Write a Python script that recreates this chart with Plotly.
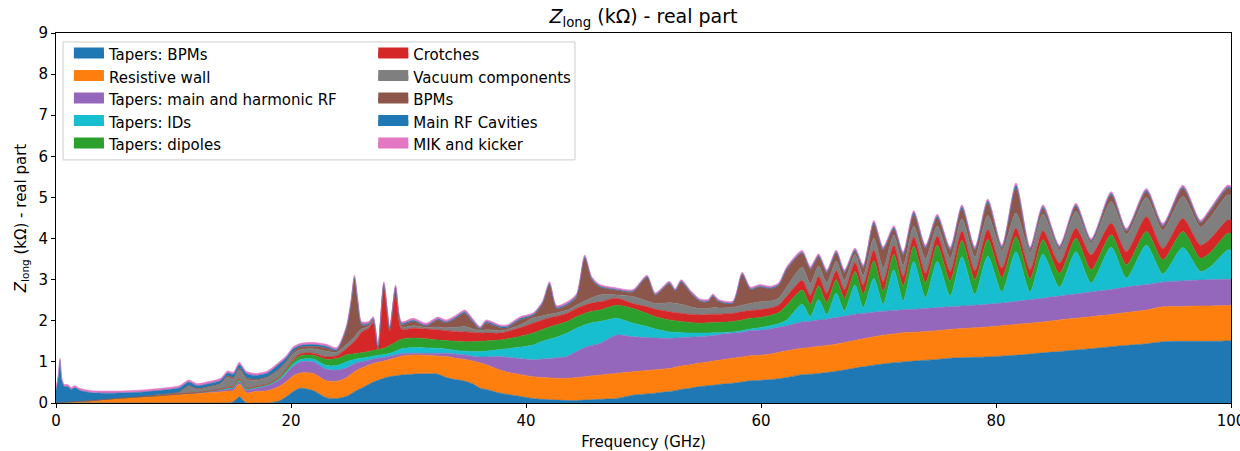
import plotly.graph_objects as go

# Frequency grid (GHz)
freq = [0, 0.2, 0.34, 0.5, 0.7, 1.0, 1.3, 1.6, 2.0, 3, 5, 7, 9, 10.5, 11.3, 12.0, 13, 14, 14.6, 15.1, 15.6, 16.2, 17, 18, 19, 19.6, 20.2,
        20.8, 21.9, 23.0, 23.9, 24.7, 25.1, 25.4, 25.7, 26.0, 26.6, 27.0, 27.4, 27.9, 28.4, 28.9, 29.4, 30.4,
        31.5, 32.5, 33.2, 34.0, 34.8, 35.5, 36.1, 36.6, 37.8, 38.4, 39.5, 40.6, 41.4, 42.0, 42.6, 43.5, 44.3, 45.0, 45.6, 46.3,
        47.7, 49.1, 50.3, 51.0, 52.2, 52.7, 53.2, 54.0, 54.8, 55.5, 55.9, 56.4, 57.6, 58.4, 59.1, 59.9, 60.8, 61.5, 62.2,
        63.5, 64.2, 64.9, 65.6, 66.4, 67.1, 68.0, 68.7, 69.6, 70.4, 71.3, 72.1, 73.0, 74.0, 75.0, 76.1, 77.1, 78.2, 79.3, 80.5,
        81.7, 82.9, 84.0, 85.4, 86.8, 88.1, 89.8, 91.1, 92.8, 94.2, 95.9, 97.4, 98.2, 99.7, 100]

# Real part of Z_long (kOhm) per component (stacked)
tapers_bpms = [0, 0, 0, 0, 0, 0, 0, 0, 0, 0, 0, 0, 0, 0, 0, 0, 0, 0, 0, 0.03, 0.15, 0, 0, 0, 0.05, 0.15, 0.28,
               0.36, 0.30, 0.13, 0.11, 0.16, 0.22, 0.27, 0.32, 0.36, 0.45, 0.51, 0.55, 0.60, 0.64, 0.66, 0.68, 0.70,
               0.71, 0.70, 0.62, 0.57, 0.53, 0.46, 0.36, 0.33, 0.24, 0.21, 0.16, 0.11, 0.09, 0.08, 0.07, 0.06, 0.06, 0.07, 0.08, 0.09,
               0.11, 0.19, 0.22, 0.24, 0.28, 0.30, 0.33, 0.36, 0.40, 0.42, 0.43, 0.45, 0.48, 0.51, 0.54, 0.55, 0.57, 0.59, 0.62,
               0.69, 0.70, 0.72, 0.74, 0.77, 0.80, 0.85, 0.88, 0.92, 0.95, 0.98, 1.00, 1.02, 1.04, 1.06, 1.09, 1.10, 1.11, 1.12, 1.14,
               1.16, 1.19, 1.22, 1.25, 1.29, 1.32, 1.37, 1.40, 1.44, 1.49, 1.50, 1.50, 1.50, 1.51, 1.51]
resistive_wall = [0, 0.005, 0.01, 0.01, 0.015, 0.02, 0.03, 0.035, 0.04, 0.06, 0.11, 0.15, 0.18, 0.21, 0.22, 0.23, 0.25, 0.27, 0.29, 0.27, 0.31, 0.25, 0.28, 0.30, 0.35, 0.37, 0.38,
                  0.37, 0.42, 0.41, 0.42, 0.45, 0.48, 0.49, 0.49, 0.49, 0.47, 0.45, 0.44, 0.42, 0.42, 0.44, 0.46, 0.47,
                  0.45, 0.44, 0.51, 0.52, 0.53, 0.56, 0.61, 0.60, 0.56, 0.54, 0.53, 0.53, 0.53, 0.53, 0.53, 0.54, 0.56, 0.57, 0.58, 0.59,
                  0.61, 0.57, 0.57, 0.57, 0.56, 0.57, 0.57, 0.57, 0.57, 0.58, 0.59, 0.59, 0.61, 0.61, 0.61, 0.61, 0.62, 0.64, 0.65,
                  0.64, 0.65, 0.66, 0.66, 0.66, 0.67, 0.67, 0.68, 0.69, 0.70, 0.70, 0.71, 0.70, 0.70, 0.70, 0.70, 0.71, 0.72, 0.73, 0.74,
                  0.75, 0.75, 0.75, 0.77, 0.77, 0.78, 0.78, 0.80, 0.82, 0.85, 0.85, 0.86, 0.86, 0.86, 0.86]
tapers_rf = [0, 0, 0, 0, 0, 0, 0, 0, 0, 0, 0, 0, 0.005, 0.01, 0.02, 0.02, 0.03, 0.04, 0.05, 0.06, 0.06, 0.07, 0.08, 0.12, 0.16, 0.20, 0.24,
             0.27, 0.28, 0.28, 0.27, 0.24, 0.21, 0.19, 0.18, 0.15, 0.12, 0.11, 0.10, 0.09, 0.08, 0.07, 0.06, 0.04,
             0.05, 0.07, 0.08, 0.10, 0.11, 0.12, 0.15, 0.19, 0.33, 0.36, 0.39, 0.41, 0.45, 0.47, 0.50, 0.53, 0.63, 0.71, 0.74, 0.77,
             0.93, 0.85, 0.80, 0.77, 0.73, 0.71, 0.69, 0.67, 0.64, 0.63, 0.62, 0.62, 0.61, 0.60, 0.61, 0.61, 0.61, 0.61, 0.61,
             0.64, 0.64, 0.64, 0.64, 0.65, 0.64, 0.64, 0.62, 0.60, 0.58, 0.57, 0.56, 0.56, 0.56, 0.56, 0.55, 0.55, 0.55, 0.55, 0.55,
             0.56, 0.57, 0.58, 0.58, 0.59, 0.60, 0.61, 0.62, 0.62, 0.60, 0.62, 0.63, 0.64, 0.64, 0.64]
tapers_ids = [0, 0, 0, 0, 0, 0, 0, 0, 0, 0, 0, 0, 0, 0, 0, 0, 0, 0.01, 0.01, 0.01, 0.02, 0.01, 0.01, 0.01, 0.02, 0.03, 0.05,
              0.06, 0.07, 0.09, 0.11, 0.15, 0.13, 0.11, 0.09, 0.09, 0.08, 0.07, 0.07, 0.07, 0.07, 0.09, 0.12, 0.14,
              0.13, 0.12, 0.10, 0.09, 0.09, 0.11, 0.13, 0.14, 0.17, 0.21, 0.28, 0.36, 0.43, 0.47, 0.50, 0.57, 0.57, 0.55, 0.55, 0.53,
              0.41, 0.33, 0.27, 0.22, 0.16, 0.14, 0.12, 0.10, 0.09, 0.07, 0.07, 0.05, 0.03, 0.04, 0.04, 0.06, 0.08, 0.09, 0.14,
              0.43, 0.11, 0.49, 0.11, 0.59, 0.13, 0.71, 0.14, 0.82, 0.17, 0.99, 0.21, 1.16, 0.26, 1.12, 0.26, 1.20, 0.26, 1.17, 0.27,
              1.21, 0.19, 1.07, 0.22, 1.03, 0.22, 1.03, 0.22, 0.96, 0.20, 0.81, 0.21, 0.30, 0.71, 0.71]
tapers_dipoles = [0, 0, 0, 0, 0, 0, 0, 0, 0, 0, 0, 0, 0, 0, 0, 0, 0.01, 0.01, 0.02, 0.02, 0.03, 0.02, 0.02, 0.02, 0.03, 0.05, 0.07,
                  0.09, 0.09, 0.15, 0.17, 0.17, 0.15, 0.14, 0.13, 0.13, 0.13, 0.14, 0.14, 0.15, 0.19, 0.22, 0.23, 0.23,
                  0.22, 0.20, 0.21, 0.22, 0.23, 0.24, 0.25, 0.25, 0.23, 0.24, 0.26, 0.29, 0.29, 0.30, 0.30, 0.28, 0.28, 0.28, 0.28, 0.28,
                  0.32, 0.36, 0.32, 0.30, 0.29, 0.28, 0.27, 0.26, 0.24, 0.25, 0.25, 0.25, 0.25, 0.26, 0.26, 0.25, 0.25, 0.27, 0.36,
                  0.35, 0.30, 0.34, 0.30, 0.33, 0.31, 0.33, 0.33, 0.43, 0.32, 0.38, 0.37, 0.38, 0.37, 0.40, 0.37, 0.39, 0.36, 0.41, 0.35,
                  0.37, 0.32, 0.35, 0.33, 0.33, 0.32, 0.30, 0.32, 0.33, 0.34, 0.39, 0.32, 0.35, 0.41, 0.41]
crotches = [0, 0, 0, 0, 0, 0, 0, 0, 0, 0, 0, 0, 0, 0, 0, 0, 0, 0, 0.01, 0.01, 0.02, 0.01, 0.01, 0.01, 0.02, 0.03, 0.04,
            0.05, 0.05, 0.06, 0.07, 0.15, 0.23, 0.30, 0.39, 0.50, 0.57, 0.68, 0.01, 1.49, 0.35, 1.24, 0.25, 0.24,
            0.24, 0.25, 0.24, 0.24, 0.24, 0.23, 0.20, 0.19, 0.17, 0.18, 0.21, 0.24, 0.23, 0.22, 0.21, 0.20, 0.20, 0.20, 0.20, 0.20,
            0.17, 0.12, 0.16, 0.18, 0.20, 0.20, 0.20, 0.20, 0.20, 0.20, 0.20, 0.20, 0.20, 0.20, 0.19, 0.19, 0.18, 0.18, 0.22,
            0.23, 0.22, 0.23, 0.22, 0.22, 0.21, 0.22, 0.23, 0.26, 0.23, 0.22, 0.23, 0.22, 0.23, 0.22, 0.23, 0.23, 0.22, 0.24, 0.23,
            0.20, 0.22, 0.22, 0.25, 0.24, 0.36, 0.28, 0.32, 0.36, 0.28, 0.32, 0.32, 0.33, 0.32, 0.32]
vacuum = [0, 0, 0, 0, 0, 0, 0, 0, 0, 0, 0, 0, 0.015, 0.04, 0.16, 0.08, 0.09, 0.13, 0.24, 0.18, 0.21, 0.22, 0.15, 0.15, 0.17, 0.15, 0.14,
          0.10, 0.11, 0.14, 0.08, 0.10, 0.10, 0.10, 0.12, 0.08, 0.04, 0.03, 0.02, 0.03, 0.03, 0.04, 0.06, 0.06,
          0.04, 0.07, 0.07, 0.10, 0.13, 0.08, 0.06, 0.08, 0.06, 0.05, 0.07, 0.13, 0.10, 0.09, 0.08, 0.08, 0.08, 0.10, 0.13, 0.17,
          0.08, 0.17, 0.14, 0.14, 0.22, 0.22, 0.22, 0.18, 0.16, 0.15, 0.16, 0.15, 0.15, 0.16, 0.17, 0.19, 0.17, 0.17, 0.22,
          0.32, 0.28, 0.25, 0.25, 0.23, 0.22, 0.20, 0.22, 0.29, 0.33, 0.24, 0.27, 0.26, 0.34, 0.24, 0.32, 0.30, 0.33, 0.34, 0.42,
          0.37, 0.42, 0.41, 0.32, 0.41, 0.28, 0.53, 0.42, 0.47, 0.44, 0.53, 0.44, 0.52, 0.61, 0.60]
bpms = [0, 0, 0, 0, 0, 0, 0, 0, 0, 0, 0, 0, 0.01, 0.01, 0.02, 0.02, 0.02, 0.02, 0.04, 0.04, 0.05, 0.04, 0.03, 0.03, 0.04, 0.04, 0.05,
        0.06, 0.06, 0.08, 0.04, 0.36, 0.88, 1.43, 0.68, 0.10, 0.04, 0.03, 0.01, 0.03, 0.02, 0.04, 0.05, 0.10,
        0.03, 0.17, 0.12, 0.21, 0.32, 0.16, 0.03, 0.16, 0.07, 0.04, 0.12, 0.05, 0.28, 0.72, 0.11, 0.12, 0.20, 1.04, 0.44, 0.19,
        0.11, 0.11, 0.57, 0.20, 0.46, 0.30, 0.54, 0.34, 0.17, 0.16, 0.27, 0.15, 0.09, 0.74, 0.34, 0.36, 0.30, 0.31, 0.43,
        0.34, 0.35, 0.23, 0.25, 0.20, 0.19, 0.08, 0.19, 0.34, 0.44, 0.15, 0.25, 0.28, 0.26, 0.20, 0.19, 0.24, 0.17, 0.30, 0.06,
        0.60, 0.07, 0.13, 0.05, 0.12, 0.05, 0.16, 0.08, 0.14, 0.10, 0.20, 0.10, 0.15, 0.16, 0.15]
main_rf = [0.30, 0.645, 1.03, 0.54, 0.385, 0.38, 0.30, 0.335, 0.27, 0.19, 0.13, 0.11, 0.10, 0.10, 0.09, 0.07, 0.07, 0.07, 0.07, 0.08, 0.08, 0.10, 0.09, 0.09, 0.11, 0.08, 0.07,
           0.04, 0.04, 0.04, 0.03, 0.03, 0.03, 0.03, 0.03, 0.03, 0.03, 0.03, 0.02, 0.02, 0.02, 0.02, 0.03, 0.03,
           0.02, 0.02, 0.02, 0.03, 0.03, 0.03, 0.03, 0.03, 0.03, 0.03, 0.03, 0.03, 0.03, 0.02, 0.03, 0.03, 0.03, 0.03, 0.02, 0.02,
           0.02, 0.02, 0.02, 0.02, 0.02, 0.02, 0.02, 0.02, 0.02, 0.02, 0.02, 0.02, 0.02, 0.02, 0.02, 0.02, 0.02, 0.02, 0.02,
           0.02, 0.02, 0.02, 0.02, 0.02, 0.02, 0.02, 0.02, 0.04, 0.03, 0.03, 0.03, 0.05, 0.03, 0.04, 0.03, 0.05, 0.03, 0.05, 0.03,
           0.07, 0.02, 0.04, 0.02, 0.03, 0.02, 0.03, 0.02, 0.03, 0.02, 0.03, 0.02, 0.02, 0.03, 0.03]
mik_kicker = [0.05] * 20 + [0.06] + [0.05] * 6 + \
             [0.05] * 13 + [0.04] + [0.05, 0.04, 0.05] + \
             [0.05, 0.05, 0.05, 0.05, 0.05, 0.05, 0.04, 0.05, 0.04, 0.04, 0.05, 0.04, 0.04, 0.05, 0.04, 0.05, 0.05, 0.05, 0.05, 0.04,
              0.04, 0.04, 0.04, 0.04, 0.04, 0.04, 0.04, 0.04, 0.04, 0.04, 0.04, 0.04, 0.04, 0.04, 0.04, 0.04, 0.04, 0.04, 0.05] + \
             [0.05] * 20 + [0.06] + [0.05] * 14

names = ["Tapers: BPMs", "Resistive wall", "Tapers: main and harmonic RF", "Tapers: IDs", "Tapers: dipoles",
         "Crotches", "Vacuum components", "BPMs", "Main RF Cavities", "MIK and kicker"]
series = [tapers_bpms, resistive_wall, tapers_rf, tapers_ids, tapers_dipoles,
          crotches, vacuum, bpms, main_rf, mik_kicker]
colors = ["#1f77b4", "#ff7f0e", "#9467bd", "#17becf", "#2ca02c",
          "#d62728", "#7f7f7f", "#8c564b", "#1f77b4", "#e377c2"]

for s in series:
    assert len(s) == len(freq), (len(s), len(freq))

fig = go.Figure()
for i, (nm, s, c) in enumerate(zip(names, series, colors)):
    fig.add_trace(go.Scatter(
        x=freq, y=s, name=nm, mode="lines", stackgroup="one",
        line=dict(color=c, width=0.6, shape="spline", smoothing=0.7),
        fillcolor=c, showlegend=False, hoverinfo="x+y+name",
    ))
# legend entries (patch-style swatches, matplotlib look)
for i, (nm, c) in enumerate(zip(names, colors)):
    fig.add_trace(go.Scatter(
        x=[None], y=[None], name=nm, mode="lines", fill="toself", fillcolor=c,
        line=dict(color=c, width=10), legendgroup=nm,
        legend="legend" if i < 5 else "legend2", showlegend=True,
    ))

font = "DejaVu Sans, Arial, sans-serif"
FS = 15
leg_common = dict(bgcolor="rgba(0,0,0,0)", borderwidth=0, font=dict(family=font, size=FS, color="black"),
                  traceorder="grouped", tracegroupgap=0, xanchor="left", yanchor="top", itemwidth=30)

fig.update_layout(
    width=1240, height=451,
    margin=dict(l=56, r=9, t=33, b=48, autoexpand=False),
    paper_bgcolor="white", plot_bgcolor="white",
    font=dict(family=font, size=FS, color="black"),
    title=dict(text="<i>Z</i><sub>long</sub> (kΩ) - real part", x=0.5, xref="paper",
               y=1 - 16 / 451, yref="container", yanchor="middle", xanchor="center",
               font=dict(family=font, size=19, color="black")),
    showlegend=True,
    legend=dict(x=0.011, y=0.986, **leg_common),
    legend2=dict(x=0.270, y=0.986, **leg_common),
    shapes=[dict(type="rect", xref="paper", yref="paper", x0=0.006, x1=0.4417, y0=0.657, y1=0.9757,
                 line=dict(color="#cccccc", width=1), fillcolor="rgba(255,255,255,0.8)", layer="above")],
)
fig.update_xaxes(range=[0, 100], tickvals=[0, 20, 40, 60, 80, 100], ticks="outside", ticklen=4, tickcolor="black",
                 showline=True, linecolor="black", linewidth=1, mirror=True, showgrid=False, zeroline=False,
                 ticklabeloverflow="allow", automargin=False,
                 title=dict(text="Frequency (GHz)", standoff=10, font=dict(family=font, size=FS)),
                 tickfont=dict(family=font, size=FS))
fig.update_yaxes(range=[0, 9], dtick=1, ticks="outside", ticklen=4, tickcolor="black",
                 showline=True, linecolor="black", linewidth=1, mirror=True, showgrid=False, zeroline=False,
                 automargin=False,
                 title=dict(text="<i>Z</i><sub>long</sub> (kΩ) - real part", standoff=8, font=dict(family=font, size=FS)),
                 tickfont=dict(family=font, size=FS))

fig.write_html("out.html")
